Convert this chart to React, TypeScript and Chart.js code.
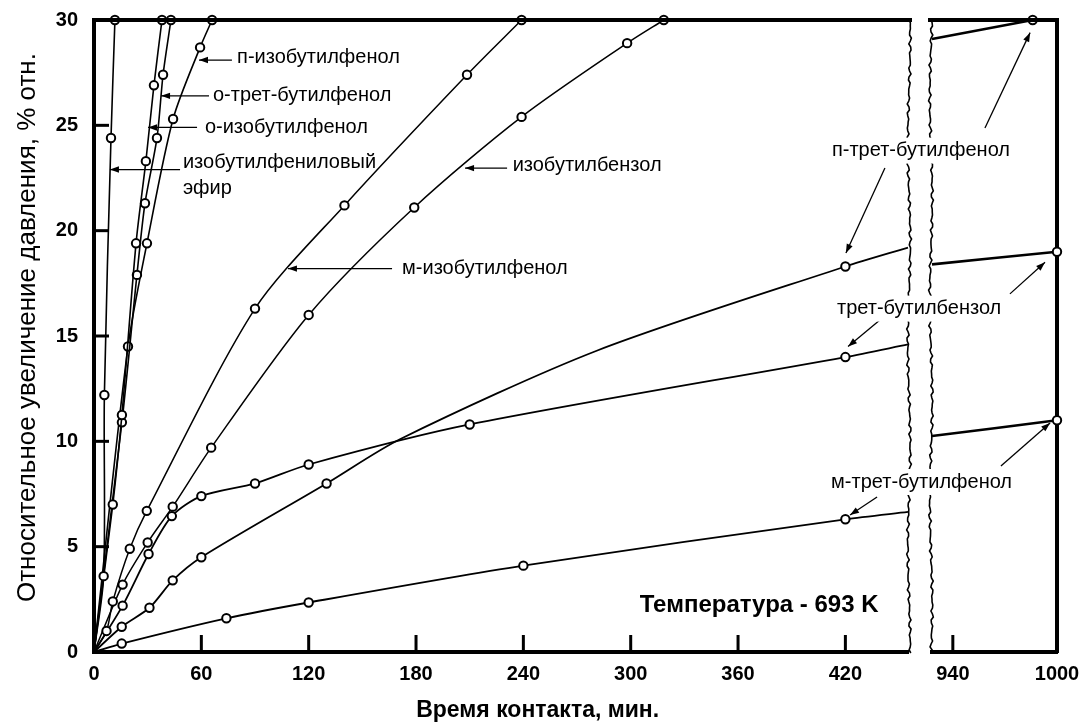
import React, { useEffect, useRef } from "react";
import { Chart, registerables } from "chart.js";

Chart.register(...registerables);

const FONT = "'Liberation Sans', Arial, Helvetica, sans-serif";

// ---- axes ----
const LEFT_RANGE = [0, 455];
const RIGHT_RANGE = [928, 1000];
const Y_RANGE = [0, 30];
const LEFT_TICKS = [0, 60, 120, 180, 240, 300, 360, 420];
const RIGHT_TICKS = [940, 1000];
const Y_TICKS = [0, 5, 10, 15, 20, 25, 30];
const Y_TITLE = "Относительное увеличение давления, % отн.";
const Y_TITLE_AT = 15.4;
const X_TITLE = "Время контакта, мин.";
const X_TITLE_AT = 248;

// ---- series (time, min / relative pressure increase, %) ----
const etherX = [0, 5.4, 5.8, 9.5, 11.7];
const etherY = [0, 3.6, 12.2, 24.4, 30];
const oIsoX = [0, 10.5, 15.6, 23.5, 29, 33.5, 38];
const oIsoY = [0, 7.0, 11.25, 19.4, 23.3, 26.9, 30];
const oTertX = [0, 15.6, 24, 28.5, 35.2, 38.6, 43];
const oTertY = [0, 10.9, 17.9, 21.3, 24.4, 27.4, 30];
const pIsoX = [0, 19, 29.6, 44.2, 59.3, 66];
const pIsoY = [0, 14.5, 19.4, 25.3, 28.7, 30];
const mIsoX = [0, 7, 10.5, 20, 29.5, 90, 140, 208.5, 239];
const mIsoY = [0, 1.0, 2.4, 4.9, 6.7, 16.3, 21.2, 27.4, 30];
const isoBenzX = [0, 16, 30, 44, 65.5, 120, 179, 239, 298, 318.5];
const isoBenzY = [0, 3.2, 5.2, 6.9, 9.7, 16.0, 21.1, 25.4, 28.9, 30];
const tertBenzX = [0, 16, 30.5, 43.5, 60, 90, 120, 210, 420, 455];
const tertBenzY = [0, 2.2, 4.65, 6.45, 7.4, 8.0, 8.9, 10.8, 14.0, 14.6];
const tertBenzRX = [928, 1000];
const tertBenzRY = [18.4, 19.0];
const pTertX = [0, 15.5, 31, 44, 60, 130, 171, 281, 420, 455];
const pTertY = [0, 1.2, 2.1, 3.4, 4.5, 8.0, 10.1, 14.3, 18.3, 19.2];
const pTertMarked = [0, 1, 1, 1, 1, 1, 0, 0, 1, 0];
const pTertRX = [928, 986];
const pTertRY = [29.1, 30];
const mTertX = [0, 15.5, 74, 120, 240, 420, 455];
const mTertY = [0, 0.4, 1.6, 2.35, 4.1, 6.3, 6.65];
const mTertRX = [928, 1000];
const mTertRY = [10.25, 11.0];

// ---- annotation labels (data coordinates of the left time axis) ----
const LABEL_TEXT = [
  "п-изобутилфенол",
  "о-трет-бутилфенол",
  "о-изобутилфенол",
  "изобутилфениловый",
  "эфир",
  "изобутилбензол",
  "м-изобутилфенол",
  "п-трет-бутилфенол",
  "трет-бутилбензол",
  "м-трет-бутилфенол",
];
const LABEL_X = [80, 66.5, 62, 49.7, 49.7, 234, 172.2, 412.5, 415.3, 412];
const LABEL_Y = [28.2, 26.4, 24.9, 23.25, 22.0, 23.1, 18.2, 23.8, 16.3, 8.07];
const LABEL_BG = [false, false, false, false, false, false, false, true, true, true];
const TEMP_TEXT = "Температура - 693 K";
const TEMP_X = 305;
const TEMP_Y = 2.2;

// ---- arrows: from label to curve ----
const ARROW_AXIS = ["x", "x", "x", "x", "x", "x", "x2", "x", "x2", "x", "x2", "x"];
const ARROW_FROM_X = [77.1, 64.3, 57.6, 48.1, 230.9, 166.6, 958.5, 442.1, 972.9, 439.3, 967.7, 437.7];
const ARROW_FROM_Y = [28.1, 26.4, 24.9, 22.9, 22.97, 18.2, 24.87, 22.97, 17.0, 15.76, 8.83, 7.36];
const ARROW_TO_X = [58.7, 37.5, 30.2, 8.9, 207.4, 108.4, 984.5, 420.3, 993.1, 421.5, 996, 422.6];
const ARROW_TO_Y = [28.1, 26.4, 24.9, 22.9, 22.97, 18.2, 29.4, 18.94, 18.5, 14.5, 10.87, 6.5];

type Series = { xs: number[]; ys: number[]; axis: string; width: number; marked?: number[] };
const SERIES: Series[] = [
  { xs: etherX, ys: etherY, axis: "x", width: 1.6 },
  { xs: oIsoX, ys: oIsoY, axis: "x", width: 1.6 },
  { xs: oTertX, ys: oTertY, axis: "x", width: 1.6 },
  { xs: pIsoX, ys: pIsoY, axis: "x", width: 1.6 },
  { xs: mIsoX, ys: mIsoY, axis: "x", width: 1.5 },
  { xs: isoBenzX, ys: isoBenzY, axis: "x", width: 1.5 },
  { xs: tertBenzX, ys: tertBenzY, axis: "x", width: 1.8 },
  { xs: pTertX, ys: pTertY, axis: "x", width: 1.8, marked: pTertMarked },
  { xs: mTertX, ys: mTertY, axis: "x", width: 1.8 },
  { xs: tertBenzRX, ys: tertBenzRY, axis: "x2", width: 2.6 },
  { xs: pTertRX, ys: pTertRY, axis: "x2", width: 2.6 },
  { xs: mTertRX, ys: mTertRY, axis: "x2", width: 2.6 },
];

const isEdge = (x: number) => x === LEFT_RANGE[0] || x === LEFT_RANGE[1] || x === RIGHT_RANGE[0];

const noPad = (s: any) => {
  s.paddingLeft = 0;
  s.paddingRight = 0;
  s.paddingTop = 0;
  s.paddingBottom = 0;
};

const framePlugin = {
  id: "frame",
  afterDatasetsDraw(chart: any) {
    const { ctx, chartArea } = chart;
    const sx = chart.scales.x;
    const sx2 = chart.scales.x2;
    const sy = chart.scales.y;
    const line = (x1: number, y1: number, x2: number, y2: number) => {
      ctx.beginPath();
      ctx.moveTo(x1, y1);
      ctx.lineTo(x2, y2);
      ctx.stroke();
    };
    ctx.save();
    ctx.strokeStyle = "#000";
    ctx.fillStyle = "#000";
    ctx.lineCap = "butt";

    // top frame (broken)
    ctx.lineWidth = 4;
    line(sx.left - 2, chartArea.top, sx.right + 4, chartArea.top);
    line(sx2.left - 4, chartArea.top, sx2.right + 2, chartArea.top);

    // inward tick marks
    ctx.lineWidth = 3;
    Y_TICKS.filter((v) => v > Y_RANGE[0] && v < Y_RANGE[1]).forEach((v) => {
      const py = sy.getPixelForValue(v);
      line(chartArea.left, py, chartArea.left + 15, py);
    });
    LEFT_TICKS.filter((v) => v > LEFT_RANGE[0] && v < LEFT_RANGE[1]).forEach((v) => {
      const px = sx.getPixelForValue(v);
      line(px, chartArea.bottom, px, chartArea.bottom - 17);
    });
    RIGHT_TICKS.filter((v) => v > RIGHT_RANGE[0] && v < RIGHT_RANGE[1]).forEach((v) => {
      const px = sx2.getPixelForValue(v);
      line(px, chartArea.bottom, px, chartArea.bottom - 17);
    });

    // wavy (torn) break edges
    ctx.lineWidth = 1.6;
    const wavy = (x0: number, phase: number) => {
      ctx.beginPath();
      let first = true;
      for (let y = chartArea.top; y <= chartArea.bottom + 1; y += 3) {
        const dx =
          0.8 * Math.sin(y * 0.53 + phase) +
          0.6 * Math.sin(y * 1.37 + phase * 2.3) +
          1.2 * Math.sin(y * 0.031 + phase);
        if (first) {
          ctx.moveTo(x0 + dx, y);
          first = false;
        } else ctx.lineTo(x0 + dx, y);
      }
      ctx.stroke();
    };
    wavy(sx.right + 1, 0.3);
    wavy(sx2.left - 1, 1.7);

    // arrows
    ctx.lineWidth = 1.3;
    ARROW_AXIS.forEach((ax, i) => {
      const s = chart.scales[ax];
      const x1 = s.getPixelForValue(ARROW_FROM_X[i]);
      const y1 = sy.getPixelForValue(ARROW_FROM_Y[i]);
      const x2 = s.getPixelForValue(ARROW_TO_X[i]);
      const y2 = sy.getPixelForValue(ARROW_TO_Y[i]);
      line(x1, y1, x2, y2);
      const ang = Math.atan2(y2 - y1, x2 - x1);
      const L = 9,
        W = 3.2;
      ctx.beginPath();
      ctx.moveTo(x2, y2);
      ctx.lineTo(x2 - L * Math.cos(ang) + W * Math.sin(ang), y2 - L * Math.sin(ang) - W * Math.cos(ang));
      ctx.lineTo(x2 - L * Math.cos(ang) - W * Math.sin(ang), y2 - L * Math.sin(ang) + W * Math.cos(ang));
      ctx.closePath();
      ctx.fill();
    });

    // labels
    ctx.font = `20px ${FONT}`;
    ctx.textAlign = "left";
    ctx.textBaseline = "middle";
    LABEL_TEXT.forEach((t, i) => {
      const px = sx.getPixelForValue(LABEL_X[i]);
      const py = sy.getPixelForValue(LABEL_Y[i]);
      if (LABEL_BG[i]) {
        const w = ctx.measureText(t).width;
        ctx.fillStyle = "#fff";
        ctx.fillRect(px - 3, py - 13, w + 6, 26);
        ctx.fillStyle = "#000";
      }
      ctx.fillText(t, px, py);
    });

    ctx.font = `bold 24px ${FONT}`;
    ctx.fillText(TEMP_TEXT, sx.getPixelForValue(TEMP_X), sy.getPixelForValue(TEMP_Y));

    // x axis title
    ctx.font = `bold 23px ${FONT}`;
    ctx.textAlign = "center";
    ctx.fillText(X_TITLE, sx.getPixelForValue(X_TITLE_AT), chartArea.bottom + 59);

    // y axis title
    ctx.save();
    ctx.translate(28, sy.getPixelForValue(Y_TITLE_AT));
    ctx.rotate(-Math.PI / 2);
    ctx.font = `26px ${FONT}`;
    ctx.fillText(Y_TITLE, 0, 0);
    ctx.restore();

    ctx.restore();
  },
};

const tickLabel = (v: any) => String(v);

export default function App() {
  const ref = useRef<HTMLCanvasElement | null>(null);
  useEffect(() => {
    if (!ref.current) return;
    const tickFont = { family: FONT, size: 20, weight: "bold" as const };
    const chart = new Chart(ref.current, {
      type: "line",
      data: {
        datasets: SERIES.map((s) => ({
          data: s.xs.map((x, i) => ({ x, y: s.ys[i] })),
          xAxisID: s.axis,
          yAxisID: "y",
          borderColor: "#000",
          borderWidth: s.width,
          backgroundColor: "#fff",
          pointBackgroundColor: "#fff",
          pointBorderColor: "#000",
          pointBorderWidth: 2,
          pointRadius: (c: any) => {
            if (!c.raw) return 0;
            if (s.marked) return s.marked[c.dataIndex] ? 4.2 : 0;
            return isEdge(c.raw.x) ? 0 : 4.2;
          },
          tension: 0.28,
          fill: false,
          clip: false as any,
        })),
      },
      options: {
        responsive: false,
        animation: false,
        events: [],
        layout: { padding: { top: 20, left: 0, right: 0, bottom: 0 } },
        plugins: { legend: { display: false }, tooltip: { enabled: false }, title: { display: false } },
        scales: {
          x: {
            type: "linear",
            position: "bottom",
            stack: "time",
            stackWeight: 814,
            min: LEFT_RANGE[0],
            max: LEFT_RANGE[1],
            afterBuildTicks: (s: any) => {
              s.ticks = LEFT_TICKS.map((v) => ({ value: v }));
            },
            afterFit: (s: any) => {
              s.height = 76;
              noPad(s);
            },
            ticks: { font: tickFont, color: "#000", padding: 10, maxRotation: 0, autoSkip: false, callback: tickLabel },
            grid: { display: false, drawTicks: false },
            border: { display: true, width: 4, color: "#000" },
          },
          xgap: {
            type: "linear",
            position: "bottom",
            stack: "time",
            stackWeight: 24,
            min: 0,
            max: 1,
            afterFit: (s: any) => {
              s.height = 76;
              noPad(s);
            },
            ticks: { display: false },
            grid: { display: false, drawTicks: false },
            border: { display: false },
          },
          x2: {
            type: "linear",
            position: "bottom",
            stack: "time",
            stackWeight: 125,
            min: RIGHT_RANGE[0],
            max: RIGHT_RANGE[1],
            afterBuildTicks: (s: any) => {
              s.ticks = RIGHT_TICKS.map((v) => ({ value: v }));
            },
            afterFit: (s: any) => {
              s.height = 76;
              noPad(s);
            },
            ticks: { font: tickFont, color: "#000", padding: 10, maxRotation: 0, autoSkip: false, callback: tickLabel },
            grid: { display: false, drawTicks: false },
            border: { display: true, width: 4, color: "#000" },
          },
          y: {
            type: "linear",
            position: "left",
            min: Y_RANGE[0],
            max: Y_RANGE[1],
            afterBuildTicks: (s: any) => {
              s.ticks = Y_TICKS.map((v) => ({ value: v }));
            },
            afterFit: (s: any) => {
              s.width = 94;
              noPad(s);
            },
            ticks: { font: tickFont, color: "#000", padding: 16, callback: tickLabel },
            grid: { display: false, drawTicks: false },
            border: { display: true, width: 4, color: "#000" },
          },
          yr: {
            type: "linear",
            position: "right",
            min: Y_RANGE[0],
            max: Y_RANGE[1],
            afterFit: (s: any) => {
              s.width = 22;
              noPad(s);
            },
            ticks: { display: false },
            grid: { display: false, drawTicks: false },
            border: { display: true, width: 4, color: "#000" },
          },
        },
      },
      plugins: [framePlugin],
    });
    return () => chart.destroy();
  }, []);
  return (
    <div style={{ position: "absolute", left: 0, top: 0, width: 1079, height: 728, background: "#fff" }}>
      <canvas ref={ref} width={1079} height={728} style={{ display: "block" }} />
    </div>
  );
}
